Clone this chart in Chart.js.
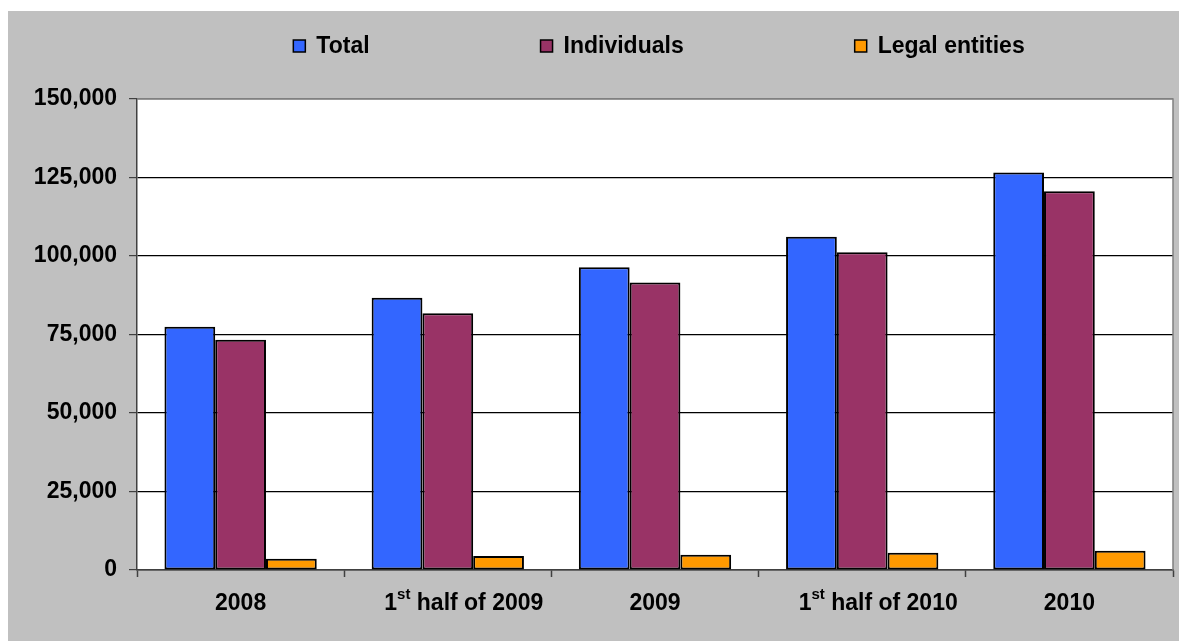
<!DOCTYPE html>
<html lang="en">
<head>
    <meta charset="UTF-8">
    <title>Total, individuals and legal entities</title>
    <style>
        body {
            margin: 0;
            padding: 0;
            background: #fff;
        }

        #chartBox {
            position: absolute;
            left: 8px;
            top: 11px;
            width: 1171px;
            height: 630px;
            background: #c0c0c0;
        }
    </style>
</head>
<body>
    <div id="chartBox">
        <canvas id="barChart"></canvas>
    </div>

    <script src="https://cdn.jsdelivr.net/npm/chart.js"></script>
    <script>
        const categories = ['2008', '1st half of 2009', '2009', '1st half of 2010', '2010'];
        const totalValues = [77500, 86700, 96400, 106100, 126600];
        const individualValues = [73300, 81800, 91600, 101200, 120600];
        const legalValues = [3600, 4450, 4850, 5500, 6150];
        const yTicks = [0, 25000, 50000, 75000, 100000, 125000, 150000];

        const labelFont = 'bold 23px "Liberation Sans", Arial, sans-serif';
        const supFont = 'bold 15px "Liberation Sans", Arial, sans-serif';

        // white plot area, grey top/right border
        const plotArea = {
            id: 'plotArea',
            beforeDraw(chart) {
                const { ctx, chartArea: a } = chart;
                ctx.save();
                ctx.fillStyle = '#fff';
                ctx.fillRect(a.left, a.top, a.right - a.left, a.bottom - a.top);
                ctx.restore();
            },
            afterDraw(chart) {
                const { ctx, chartArea: a } = chart;
                ctx.save();
                ctx.strokeStyle = '#808080';
                ctx.lineWidth = 1.5;
                ctx.beginPath();
                ctx.moveTo(a.left, a.top);
                ctx.lineTo(a.right, a.top);
                ctx.lineTo(a.right, a.bottom);
                ctx.stroke();
                ctx.restore();
            }
        };

        // legend spread over the top like the original
        const wideLegend = {
            id: 'wideLegend',
            afterDraw(chart) {
                const { ctx, chartArea: a } = chart;
                const gap = 171;
                ctx.save();
                ctx.font = labelFont;
                const items = chart.data.datasets.map(ds => ({
                    ds,
                    w: 12 + 11 + ctx.measureText(ds.label).width
                }));
                const span = items.reduce((s, it) => s + it.w, 0) + gap * (items.length - 1);
                let x = (a.left + a.right) / 2 + 4 - span / 2;
                const y = 35;
                items.forEach(it => {
                    ctx.fillStyle = it.ds.backgroundColor;
                    ctx.fillRect(x, y - 6, 12, 12);
                    ctx.strokeStyle = '#000';
                    ctx.lineWidth = 1.5;
                    ctx.strokeRect(x, y - 6, 12, 12);
                    ctx.fillStyle = '#000';
                    ctx.textBaseline = 'middle';
                    ctx.textAlign = 'left';
                    ctx.fillText(it.ds.label, x + 23, y + 1);
                    x += it.w + gap;
                });
                ctx.restore();
            }
        };

        // category labels with the "st" raised
        const xLabels = {
            id: 'xLabels',
            afterDraw(chart) {
                const { ctx } = chart;
                const xs = chart.scales.x;
                const y = 593;
                ctx.save();
                ctx.fillStyle = '#000';
                ctx.textBaseline = 'middle';
                ctx.textAlign = 'left';
                categories.forEach((label, i) => {
                    const cx = xs.getPixelForValue(i);
                    const m = label.match(/^(\d+)(st|nd|rd|th)(.*)$/);
                    if (!m) {
                        ctx.font = labelFont;
                        const w = ctx.measureText(label).width;
                        ctx.fillText(label, cx - w / 2, y);
                        return;
                    }
                    ctx.font = labelFont;
                    const w1 = ctx.measureText(m[1]).width;
                    const w3 = ctx.measureText(m[3]).width;
                    ctx.font = supFont;
                    const w2 = ctx.measureText(m[2]).width;
                    let x = cx + 16 - (w1 + w2 + w3) / 2;
                    ctx.font = labelFont;
                    ctx.fillText(m[1], x, y);
                    x += w1;
                    ctx.font = supFont;
                    ctx.fillText(m[2], x, y - 9);
                    x += w2;
                    ctx.font = labelFont;
                    ctx.fillText(m[3], x, y);
                });
                ctx.restore();
            }
        };

        const ctx = document.getElementById('barChart').getContext('2d');
        new Chart(ctx, {
            type: 'bar',
            data: {
                labels: categories,
                datasets: [
                    {
                        label: 'Total',
                        data: totalValues,
                        backgroundColor: '#3366ff'
                    },
                    {
                        label: 'Individuals',
                        data: individualValues,
                        backgroundColor: '#993366'
                    },
                    {
                        label: 'Legal entities',
                        data: legalValues,
                        backgroundColor: '#ff9900'
                    }
                ]
            },
            options: {
                responsive: true,
                maintainAspectRatio: false,
                animation: false,
                layout: {
                    padding: { left: 0, right: 6, top: 88, bottom: 0 }
                },
                datasets: {
                    bar: {
                        categoryPercentage: 0.735,
                        barPercentage: 1.0,
                        borderColor: '#000',
                        borderWidth: 2,
                        borderSkipped: false
                    }
                },
                plugins: {
                    legend: { display: false },
                    tooltip: { enabled: false }
                },
                scales: {
                    x: {
                        offset: true,
                        afterFit: scale => { scale.height = 71; },
                        grid: {
                            offset: true,
                            drawOnChartArea: false,
                            drawTicks: true,
                            tickLength: 7,
                            tickColor: '#404040',
                            tickWidth: 1.5
                        },
                        border: { color: '#404040', width: 1.5 },
                        ticks: {
                            color: 'rgba(0,0,0,0)',
                            font: { family: '"Liberation Sans", Arial, sans-serif', size: 23, weight: 'bold' }
                        }
                    },
                    y: {
                        min: yTicks[0],
                        max: yTicks[yTicks.length - 1],
                        afterFit: scale => { scale.width = 129; },
                        afterBuildTicks: scale => {
                            scale.ticks = yTicks.map(v => ({ value: v }));
                        },
                        grid: {
                            color: c => (c.tick && c.tick.value === 150000 ? '#808080' : '#000'),
                            lineWidth: 1.2,
                            tickLength: 8,
                            tickColor: '#404040'
                        },
                        border: { color: '#404040', width: 1.5 },
                        ticks: {
                            padding: 12,
                            color: '#000',
                            font: { family: '"Liberation Sans", Arial, sans-serif', size: 23, weight: 'bold' },
                            callback: v => v.toLocaleString('en-US')
                        }
                    }
                }
            },
            plugins: [plotArea, wideLegend, xLabels]
        });
    </script>
</body>
</html>
